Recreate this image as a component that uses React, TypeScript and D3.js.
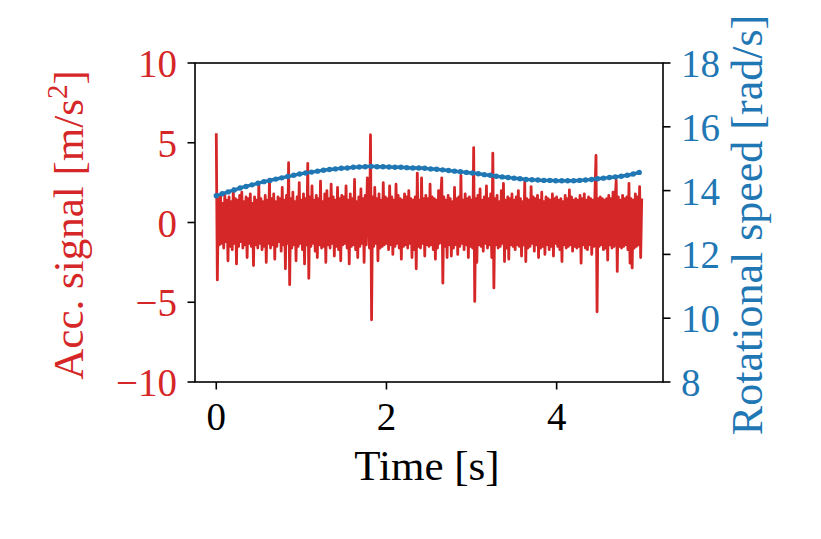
import { useEffect, useRef } from 'react';
import * as d3 from 'd3';

// time step of the acceleration samples [s]
const ACC_DT = 0.0125;
// acceleration signal [m/s^2], one row per 0.25 s
const accSignal = [
  5.6, -3.6, 1.5, -1.4, 1.7, -1.3, 1.2, -1.6, 1.8, -1.2, 1.4, -2.4, 1.6, -1.5, 1.3, -1.7, 2.1, -1.3, 1.5, -2.6,
  1.4, -1.5, 1.7, -1.2, 1.9, -1.6, 1.3, -1.4, 1.6, -2.2, 1.5, -1.3, 1.8, -1.5, 1.2, -2.7, 1.6, -1.4, 1.4, -1.6,
  2.4, -1.3, 1.5, -1.7, 1.3, -1.5, 1.7, -2.5, 1.4, -1.3, 2.7, -1.6, 1.5, -1.4, 1.8, -2.3, 1.3, -1.5, 1.6, -1.2,
  1.5, -1.8, 2.2, -1.4, 1.4, -2.9, 1.7, -1.3, 3.75, -3.9, 1.5, -1.6, 1.9, -1.4, 1.3, -2.4, 1.6, -1.5, 2.5, -1.3,
  1.4, -1.7, 1.8, -2.6, 1.5, -1.4, 3.7, -3.5, 1.6, -1.5, 2.3, -1.3, 1.4, -1.8, 1.7, -2.2, 1.5, -1.4, 2.6, -1.6,
  1.3, -1.5, 1.8, -2.5, 2.0, -1.4, 1.5, -1.6, 2.4, -1.3, 1.6, -2.1, 1.4, -1.5, 2.2, -1.7, 1.5, -2.4, 1.7, -1.4,
  1.6, -1.3, 2.3, -1.6, 1.4, -2.6, 1.8, -1.5, 1.5, -1.4, 2.7, -1.7, 1.3, -2.2, 1.6, -1.5, 2.1, -1.3, 1.5, -2.5,
  1.7, -1.4, 2.8, 1.4, -1.6, 5.5, -6.1, 1.6, -1.5, 2.2, -1.3, 1.5, -2.4, 1.8, -1.6, 1.4, -1.5, 2.5, -1.4, 1.6,
  -1.3, 1.5, -1.7, 2.3, -1.4, 1.6, -2.0, 1.4, -1.5, 2.4, -1.3, 1.7, -1.6, 1.5, -2.3, 1.4, -1.5, 1.8, -1.4, 1.6,
  -1.6, 2.0, -1.3, 1.5, -2.2, 1.4, -1.7, 1.6, -2.9, 3.1, -1.5, 1.4, -1.6, 2.8, -1.3, 1.5, -2.1, 1.7, -1.4, 1.5,
  -1.5, 2.4, -1.4, 1.6, -1.7, 1.5, -2.3, 1.4, -1.6, 2.0, -1.3, 1.5, 2.8, -3.8, 1.6, -1.5, 1.4, -2.2, 1.7, -1.4,
  1.5, -2.1, 1.3, -1.6, 2.2, -1.4, 1.5, -2.0, 1.6, -1.5, 2.95, -1.3, 1.4, -1.7, 1.8, -1.4, 1.5, -2.2, 1.6, -1.5,
  1.4, -1.6, 4.7, -4.95, 1.5, -2.5, 1.7, -1.4, 2.1, -1.5, 1.4, -1.8, 1.6, -1.3, 2.3, -1.6, 1.5, -1.4, 1.8, -2.2,
  4.35, -4.1, 1.5, -1.4, 1.7, -1.6, 1.3, -1.5, 2.0, -1.3, 2.45, -2.45, 1.4, -1.6, 1.6, -2.3, 1.5, -1.4, 1.8, -1.5,
  1.4, -1.7, 1.6, -1.4, 2.0, -1.5, 1.5, -2.1, 1.3, -1.4, 2.55, -2.45, 1.5, -1.6, 1.4, -1.5, 2.25, -1.3, 1.6, -1.8,
  1.5, -1.4, 1.7, -2.2, 1.4, -1.6, 1.9, -1.5, 1.3, -2.0, 1.6, -1.4, 1.5, -1.7, 1.4, -1.5, 1.8, -2.1, 1.5, -1.3,
  1.6, -1.5, 1.4, -1.7, 1.5, -2.45, 1.3, -1.4, 1.7, -1.6, 1.5, -1.5, 2.05, -1.4, 1.6, -1.8, 1.4, -1.5, 1.5, -1.6,
  1.4, -1.5, 1.7, -2.55, 1.5, -1.4, 1.8, -1.6, 1.4, -1.7, 1.6, -1.4, 1.5, -2.0, 1.4, -1.5, 1.7, 4.2, -5.6, 1.5,
  -1.5, 1.6, -1.4, 1.5, -1.7, 1.4, -1.6, 1.5, -2.35, 1.7, -1.4, 1.5, -1.6, 1.9, -1.5, 1.4, 2.65, -3.07, 1.6, -1.5,
  1.4, -1.6, 1.7, -1.5, 1.5, -1.4, 1.6, -1.7, 2.45, -2.55, 1.5, -2.85, 1.4, -1.6, 1.8, -1.5, 1.6, -1.4, 2.25, -2.2,
  1.5,
];

// rotational speed [rad/s], sampled every 0.07 s
const SPEED_DT = 0.07;
const rotSpeed = [
  13.84, 13.90, 13.96, 14.02, 14.08, 14.13, 14.18, 14.23, 14.28, 14.32,
  14.36, 14.40, 14.44, 14.48, 14.52, 14.55, 14.58, 14.61, 14.64, 14.66,
  14.68, 14.70, 14.71, 14.73, 14.74, 14.75, 14.76, 14.75, 14.75, 14.74,
  14.73, 14.73, 14.72, 14.71, 14.71, 14.70, 14.68, 14.67, 14.65, 14.63,
  14.61, 14.59, 14.57, 14.55, 14.53, 14.50, 14.48, 14.45, 14.43, 14.41,
  14.39, 14.37, 14.35, 14.34, 14.33, 14.32, 14.32, 14.31, 14.31, 14.31,
  14.31, 14.32, 14.33, 14.35, 14.37, 14.39, 14.41, 14.43, 14.45, 14.48,
  14.52, 14.57,
];

const timeTicks = [0, 2, 4];
const accTicks = [-10, -5, 0, 5, 10];
const speedTicks = [8, 10, 12, 14, 16, 18];

const RED = '#d62728';
const BLUE = '#1f77b4';
const FONT = '"Liberation Serif", "DejaVu Serif", serif';

const W = 821;
const H = 539;
const margin = { top: 63, right: 158, bottom: 157, left: 195 };

const fmt = (v: number) => (v < 0 ? '\u2212' + Math.abs(v) : String(v));

export default function App() {
  const svgRef = useRef<SVGSVGElement>(null);

  useEffect(() => {
    if (!svgRef.current) return;
    const svg = d3.select(svgRef.current);
    svg.selectAll('*').remove();

    const x0 = margin.left;
    const x1 = W - margin.right;
    const y0 = H - margin.bottom;
    const y1 = margin.top;

    const x = d3.scaleLinear().domain([-0.25, 5.25]).range([x0, x1]);
    const yAcc = d3.scaleLinear().domain([-10, 10]).range([y0, y1]);
    const ySpeed = d3.scaleLinear().domain([8, 18]).range([y0, y1]);

    const clipId = 'plot-clip';
    svg.append('defs').append('clipPath').attr('id', clipId)
      .append('rect')
      .attr('x', x0).attr('y', y1)
      .attr('width', x1 - x0).attr('height', y0 - y1);

    const plot = svg.append('g').attr('clip-path', `url(#${clipId})`);

    // acceleration
    const accLine = d3.line<number>()
      .x((_, i) => x(i * ACC_DT))
      .y(d => yAcc(d));
    plot.append('path')
      .attr('d', accLine(accSignal) ?? '')
      .attr('fill', 'none')
      .attr('stroke', RED)
      .attr('stroke-width', 2.8)
      .attr('stroke-linejoin', 'round');

    // rotational speed
    const speedLine = d3.line<number>()
      .x((_, i) => x(i * SPEED_DT))
      .y(d => ySpeed(d))
      .curve(d3.curveMonotoneX);
    plot.append('path')
      .attr('d', speedLine(rotSpeed) ?? '')
      .attr('fill', 'none')
      .attr('stroke', BLUE)
      .attr('stroke-width', 3.4);
    plot.append('g')
      .selectAll('circle')
      .data(rotSpeed)
      .join('circle')
      .attr('cx', (_, i) => x(i * SPEED_DT))
      .attr('cy', d => ySpeed(d))
      .attr('r', 2.7)
      .attr('fill', BLUE);

    // frame
    svg.append('rect')
      .attr('x', x0).attr('y', y1)
      .attr('width', x1 - x0).attr('height', y0 - y1)
      .attr('fill', 'none')
      .attr('stroke', '#000')
      .attr('stroke-width', 1.6);

    const tickLen = 7.5;

    // bottom axis
    const gx = svg.append('g');
    gx.selectAll('line')
      .data(timeTicks)
      .join('line')
      .attr('x1', d => x(d)).attr('x2', d => x(d))
      .attr('y1', y0).attr('y2', y0 + tickLen)
      .attr('stroke', '#000').attr('stroke-width', 1.6);
    gx.selectAll('text')
      .data(timeTicks)
      .join('text')
      .attr('x', d => x(d))
      .attr('y', y0 + 48)
      .attr('text-anchor', 'middle')
      .attr('font-family', FONT)
      .attr('font-size', 39)
      .attr('fill', '#000')
      .text(d => fmt(d));

    // left axis
    const gl = svg.append('g');
    gl.selectAll('line')
      .data(accTicks)
      .join('line')
      .attr('x1', x0 - tickLen).attr('x2', x0)
      .attr('y1', d => yAcc(d)).attr('y2', d => yAcc(d))
      .attr('stroke', '#000').attr('stroke-width', 1.6);
    gl.selectAll('text')
      .data(accTicks)
      .join('text')
      .attr('x', x0 - 18)
      .attr('y', d => yAcc(d) + 14)
      .attr('text-anchor', 'end')
      .attr('font-family', FONT)
      .attr('font-size', 39)
      .attr('fill', RED)
      .text(d => fmt(d));

    // right axis
    const gr = svg.append('g');
    gr.selectAll('line')
      .data(speedTicks)
      .join('line')
      .attr('x1', x1).attr('x2', x1 + tickLen)
      .attr('y1', d => ySpeed(d)).attr('y2', d => ySpeed(d))
      .attr('stroke', '#000').attr('stroke-width', 1.6);
    gr.selectAll('text')
      .data(speedTicks)
      .join('text')
      .attr('x', x1 + 18)
      .attr('y', d => ySpeed(d) + 14)
      .attr('text-anchor', 'start')
      .attr('font-family', FONT)
      .attr('font-size', 39)
      .attr('fill', BLUE)
      .text(d => fmt(d));

    // axis labels
    svg.append('text')
      .attr('x', (x0 + x1) / 2 - 2)
      .attr('y', 480)
      .attr('text-anchor', 'middle')
      .attr('font-family', FONT)
      .attr('font-size', 43)
      .attr('fill', '#000')
      .text('Time [s]');

    const accLabel = svg.append('text')
      .attr('transform', `translate(83, 225) rotate(-90)`)
      .attr('text-anchor', 'middle')
      .attr('font-family', FONT)
      .attr('font-size', 43)
      .attr('fill', RED);
    accLabel.append('tspan').text('Acc. signal [m/s');
    accLabel.append('tspan').attr('font-size', 29).attr('dy', -16).text('2');
    accLabel.append('tspan').attr('dy', 16).text(']');

    svg.append('text')
      .attr('transform', `translate(762, 225) rotate(-90)`)
      .attr('text-anchor', 'middle')
      .attr('font-family', FONT)
      .attr('font-size', 44)
      .attr('fill', BLUE)
      .text('Rotational speed [rad/s]');
  }, []);

  return (
    <svg
      ref={svgRef}
      width={W}
      height={H}
      style={{ position: 'absolute', left: 0, top: 0, background: '#fff' }}
    />
  );
}
